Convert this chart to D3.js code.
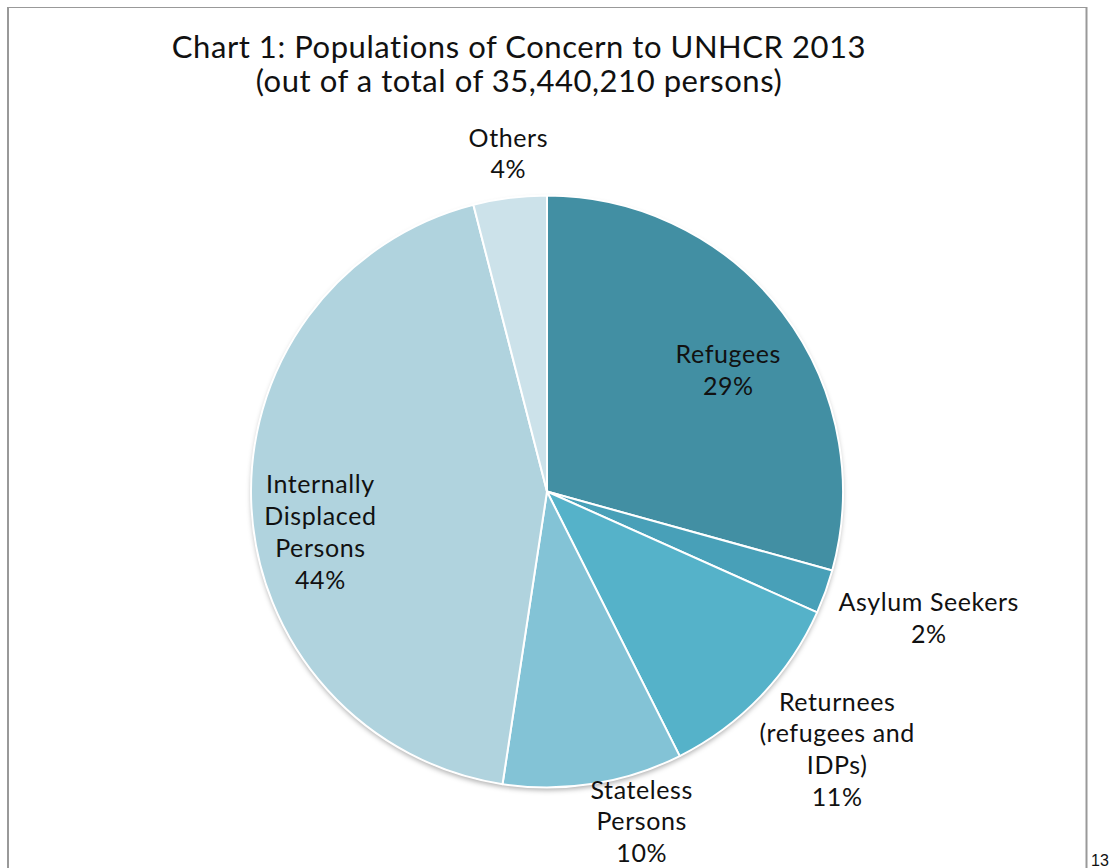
<!DOCTYPE html>
<html>
<head>
<meta charset="utf-8">
<script src="https://cdn.jsdelivr.net/npm/d3@7"></script>
<style>
  html, body { margin: 0; padding: 0; background: #fff; }
  svg { display: block; }
  text { font-family: Lato, 'Open Sans', sans-serif; fill: #111; }
</style>
</head>
<body>
<svg id="chart"></svg>
<script>
'use strict'

const categories = ['Refugees', 'Asylum Seekers', 'Returnees (refugees and IDPs)', 'Stateless Persons', 'Internally Displaced Persons', 'Others']
const shares = [29.3, 2.4, 10.9, 9.8, 43.6, 4.0]
const percentLabels = ['29%', '2%', '11%', '10%', '44%', '4%']
const labelLines = [
  ['Refugees'],
  ['Asylum Seekers'],
  ['Returnees', '(refugees and', 'IDPs)'],
  ['Stateless', 'Persons'],
  ['Internally', 'Displaced', 'Persons'],
  ['Others']
]
const colors = ['#428fa3', '#48a0b8', '#55b2c9', '#83c3d6', '#b0d3de', '#cce2ea']

const width = 1109
const height = 868
const cx = 547
const cy = 491.5
const radius = 296

// label placement: radius factor and small nudge per slice
const labelLayout = [
  { k: 0.74, dx: 7, dy: 11 },
  { k: 1.36, dx: 3, dy: -10 },
  { k: 1.31, dx: 10, dy: -10 },
  { k: 1.16, dx: 41, dy: -9 },
  { k: 0.78, dx: 4, dy: 29 },
  { k: 1.15, dx: 4, dy: 0 }
]

const svg = d3.select('#chart').attr('width', width).attr('height', height)

const defs = svg.append('defs')
const shadow = defs.append('filter').attr('id', 'shadow')
  .attr('x', '-10%').attr('y', '-10%').attr('width', '120%').attr('height', '120%')
shadow.append('feDropShadow')
  .attr('dx', 0).attr('dy', 3).attr('stdDeviation', 2.5)
  .attr('flood-color', '#000').attr('flood-opacity', 0.3)

// page frame
svg.append('path')
  .attr('d', `M8,${height} V7.5 H1086.5 V${height}`)
  .attr('fill', 'none').attr('stroke', '#999').attr('stroke-width', 1)
svg.append('line')
  .attr('x1', 8).attr('x2', 8).attr('y1', 7).attr('y2', height)
  .attr('stroke', '#999').attr('stroke-width', 2)
svg.append('line')
  .attr('x1', 1086.5).attr('x2', 1086.5).attr('y1', 7).attr('y2', height)
  .attr('stroke', '#999').attr('stroke-width', 2)

svg.append('text')
  .attr('x', 1091).attr('y', 866)
  .style('font-family', 'Liberation Sans, Arial, sans-serif')
  .style('font-size', '16px')
  .text('13')

// title
const title = svg.append('text')
  .attr('text-anchor', 'middle')
  .style('font-size', '31px')
  .style('letter-spacing', '0.55px')
title.append('tspan').attr('x', 519).attr('y', 58).text('Chart 1: Populations of Concern to UNHCR 2013')
title.append('tspan').attr('x', 519).attr('y', 92).text('(out of a total of 35,440,210 persons)')

const data = categories.map((c, i) => ({
  name: c, value: shares[i], pct: percentLabels[i], lines: labelLines[i], color: colors[i], layout: labelLayout[i]
}))

const pie = d3.pie().sort(null).value((d) => d.value)
const arcs = pie(data)
const arc = d3.arc().innerRadius(0).outerRadius(radius)

const g = svg.append('g').attr('transform', `translate(${cx}, ${cy})`)

g.append('circle').attr('r', radius).attr('fill', '#fff').attr('filter', 'url(#shadow)')

g.selectAll('path.slice')
  .data(arcs)
  .enter()
  .append('path')
  .attr('class', 'slice')
  .attr('d', arc)
  .attr('fill', (d) => d.data.color)
  .attr('stroke', '#fff')
  .attr('stroke-width', 2)
  .attr('stroke-linejoin', 'round')

const lineHeight = 31.8
g.selectAll('text.label')
  .data(arcs)
  .enter()
  .append('text')
  .attr('class', 'label')
  .attr('text-anchor', 'middle')
  .style('font-size', '25px')
  .style('letter-spacing', '0.6px')
  .each(function (d) {
    const L = d.data.layout
    const r = radius * L.k
    const c = d3.arc().innerRadius(r).outerRadius(r).centroid(d)
    const x = c[0] + L.dx
    const y = c[1] + L.dy
    const lines = d.data.lines.concat([d.data.pct])
    const top = y - (lines.length - 1) * lineHeight / 2
    const t = d3.select(this)
    lines.forEach((s, i) => {
      t.append('tspan')
        .attr('x', x)
        .attr('y', top + i * lineHeight)
        .attr('dy', '0.35em')
        .text(s)
    })
  })
</script>
</body>
</html>
